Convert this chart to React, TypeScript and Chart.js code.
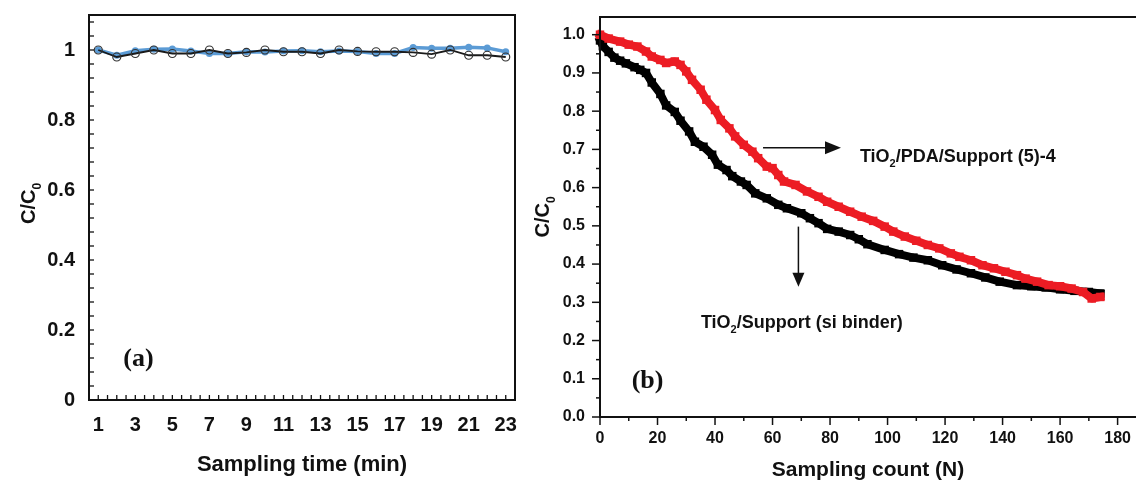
import React, { useEffect, useRef } from 'react';
import { Chart, registerables } from 'chart.js';

Chart.register(...registerables);

// ---------- Panel (a) data ----------
const samplingTime = [1, 2, 3, 4, 5, 6, 7, 8, 9, 10, 11, 12, 13, 14, 15, 16, 17, 18, 19, 20, 21, 22, 23];
const blueSeries = [1.0, 0.985, 0.998, 1.002, 1.003, 0.997, 0.99, 0.99, 0.995, 0.994, 0.997, 0.998, 0.995, 0.997, 0.996, 0.99, 0.99, 1.007, 1.005, 1.005, 1.008, 1.006, 0.995];
const blackSeries = [1.0, 0.98, 0.99, 1.0, 0.99, 0.99, 1.0, 0.99, 0.993, 1.0, 0.995, 0.995, 0.99, 1.0, 0.996, 0.995, 0.995, 0.993, 0.988, 1.0, 0.985, 0.985, 0.98];
const leftXTicks = [1, 3, 5, 7, 9, 11, 13, 15, 17, 19, 21, 23];
const leftYTicks = [0, 0.2, 0.4, 0.6, 0.8, 1];

// ---------- Panel (b) data ----------
const siBinderCount = [0, 1, 3, 5, 7, 9, 12, 14, 16, 18, 21, 23, 26, 28, 31, 33, 36, 39, 41, 44, 46, 49, 51, 54, 58, 62, 65, 70, 73, 76, 79, 83, 87, 90, 93, 99, 104, 109, 114, 119, 124, 129, 134, 139, 145, 150, 155, 160, 165, 170, 174];
const siBinderValues = [0.985, 0.97, 0.955, 0.94, 0.932, 0.925, 0.915, 0.908, 0.9, 0.875, 0.845, 0.815, 0.798, 0.775, 0.747, 0.72, 0.707, 0.686, 0.66, 0.646, 0.63, 0.616, 0.607, 0.585, 0.572, 0.555, 0.546, 0.533, 0.52, 0.507, 0.492, 0.485, 0.476, 0.465, 0.452, 0.437, 0.426, 0.417, 0.41, 0.397, 0.386, 0.376, 0.365, 0.354, 0.345, 0.342, 0.339, 0.334, 0.33, 0.327, 0.323];
const pdaCount = [0, 3, 7, 10, 13, 16, 18, 21, 23, 26, 28, 30, 32, 35, 37, 40, 42, 45, 47, 50, 53, 55, 58, 60, 62, 64, 68, 72, 76, 79, 83, 87, 91, 95, 99, 102, 106, 110, 114, 118, 122, 125, 129, 133, 137, 141, 145, 148, 152, 156, 160, 164, 168, 171, 174];
const pdaValues = [1.0, 0.99, 0.982, 0.974, 0.969, 0.956, 0.943, 0.934, 0.926, 0.93, 0.921, 0.904, 0.882, 0.856, 0.83, 0.803, 0.777, 0.755, 0.734, 0.712, 0.694, 0.677, 0.655, 0.651, 0.633, 0.616, 0.607, 0.59, 0.576, 0.563, 0.55, 0.537, 0.524, 0.513, 0.498, 0.485, 0.472, 0.461, 0.45, 0.441, 0.428, 0.419, 0.41, 0.397, 0.389, 0.38, 0.371, 0.362, 0.354, 0.345, 0.342, 0.336, 0.327, 0.31, 0.314];
const rightXTicks = [0, 20, 40, 60, 80, 100, 120, 140, 160, 180];
const rightYTicks = [0, 0.1, 0.2, 0.3, 0.4, 0.5, 0.6, 0.7, 0.8, 0.9, 1.0];

const SANS = '"Liberation Sans", Arial, sans-serif';
const SERIF = '"Liberation Serif", "Times New Roman", serif';

type Part = { t: string; sub?: boolean };

function drawRich(ctx: CanvasRenderingContext2D, parts: Part[], x: number, y: number, size: number, align: 'left' | 'center') {
  const widths = parts.map((p) => {
    ctx.font = `bold ${p.sub ? Math.round(size * 0.62) : size}px ${SANS}`;
    return ctx.measureText(p.t).width;
  });
  const total = widths.reduce((a, b) => a + b, 0);
  let cx = align === 'center' ? x - total / 2 : x;
  ctx.textAlign = 'left';
  ctx.textBaseline = 'alphabetic';
  parts.forEach((p, i) => {
    ctx.font = `bold ${p.sub ? Math.round(size * 0.62) : size}px ${SANS}`;
    ctx.fillText(p.t, cx, y + (p.sub ? size * 0.28 : 0));
    cx += widths[i];
  });
}

function line(ctx: CanvasRenderingContext2D, x1: number, y1: number, x2: number, y2: number) {
  ctx.beginPath();
  ctx.moveTo(x1, y1);
  ctx.lineTo(x2, y2);
  ctx.stroke();
}

const leftDecor = {
  id: 'leftDecor',
  afterDraw(chart: any) {
    const { ctx, chartArea: ca, scales } = chart;
    const x = scales.x;
    const y = scales.y;
    ctx.save();
    ctx.strokeStyle = '#111';
    ctx.lineWidth = 2;
    ctx.strokeRect(ca.left, ca.top, ca.right - ca.left, ca.bottom - ca.top);
    ctx.lineWidth = 1.3;
    for (let i = 2; i <= 46; i++) {
      const px = x.getPixelForValue(i / 2);
      line(ctx, px, ca.bottom, px, ca.bottom - 5);
    }
    for (let i = 1; i <= 27; i++) {
      const py = y.getPixelForValue(i * 0.04);
      line(ctx, ca.left, py, ca.left + 5, py);
    }
    ctx.fillStyle = '#111';
    ctx.save();
    ctx.translate(35, (ca.top + ca.bottom) / 2 - 4);
    ctx.rotate(-Math.PI / 2);
    drawRich(ctx, [{ t: 'C/C' }, { t: '0', sub: true }], 0, 0, 20, 'center');
    ctx.restore();
    ctx.font = `bold 26px ${SERIF}`;
    ctx.textAlign = 'left';
    ctx.textBaseline = 'middle';
    ctx.fillText('(a)', x.getPixelForValue(2.35), y.getPixelForValue(0.116));
    ctx.restore();
  },
};

const rightDecor = {
  id: 'rightDecor',
  afterDraw(chart: any) {
    const { ctx, chartArea: ca, scales } = chart;
    const x = scales.x;
    const y = scales.y;
    ctx.save();
    ctx.strokeStyle = '#111';
    ctx.fillStyle = '#111';
    ctx.lineWidth = 2;
    line(ctx, ca.left, ca.top, ca.right, ca.top);
    line(ctx, ca.left, ca.top - 1, ca.left, ca.bottom + 1);
    line(ctx, ca.left - 1, ca.bottom, ca.right, ca.bottom);
    ctx.lineWidth = 1.5;
    for (let i = 0; i <= 20; i++) {
      const py = y.getPixelForValue(i * 0.05);
      line(ctx, ca.left, py, ca.left - (i % 2 === 0 ? 8 : 4), py);
    }
    for (let i = 0; i <= 18; i++) {
      const px = x.getPixelForValue(i * 10);
      line(ctx, px, ca.bottom, px, ca.bottom + (i % 2 === 0 ? 8 : 4));
    }
    ctx.save();
    ctx.translate(ca.left - 51, (ca.top + ca.bottom) / 2);
    ctx.rotate(-Math.PI / 2);
    drawRich(ctx, [{ t: 'C/C' }, { t: '0', sub: true }], 0, 0, 20, 'center');
    ctx.restore();

    const a1y = y.getPixelForValue(0.704);
    const a1x0 = x.getPixelForValue(56.7);
    const a1x1 = x.getPixelForValue(83.8);
    ctx.lineWidth = 1.5;
    line(ctx, a1x0, a1y, a1x1 - 10, a1y);
    ctx.beginPath();
    ctx.moveTo(a1x1, a1y);
    ctx.lineTo(a1x1 - 16, a1y - 6.5);
    ctx.lineTo(a1x1 - 16, a1y + 6.5);
    ctx.closePath();
    ctx.fill();
    drawRich(ctx, [{ t: 'TiO' }, { t: '2', sub: true }, { t: '/PDA/Support (5)-4' }], x.getPixelForValue(90.4), y.getPixelForValue(0.685) + 6.5, 18, 'left');

    const a2x = x.getPixelForValue(69);
    const a2y0 = y.getPixelForValue(0.498);
    const a2y1 = y.getPixelForValue(0.341);
    line(ctx, a2x, a2y0, a2x, a2y1 - 8);
    ctx.beginPath();
    ctx.moveTo(a2x, a2y1);
    ctx.lineTo(a2x - 6, a2y1 - 14);
    ctx.lineTo(a2x + 6, a2y1 - 14);
    ctx.closePath();
    ctx.fill();
    drawRich(ctx, [{ t: 'TiO' }, { t: '2', sub: true }, { t: '/Support (si binder)' }], x.getPixelForValue(35.1), y.getPixelForValue(0.249) + 6.5, 18, 'left');

    ctx.font = `bold 26px ${SERIF}`;
    ctx.textAlign = 'left';
    ctx.textBaseline = 'middle';
    ctx.fillText('(b)', x.getPixelForValue(11), y.getPixelForValue(0.093));
    ctx.restore();
  },
};

function tickFont(size: number) {
  return { family: SANS, size, weight: 'bold' as const, lineHeight: 1 };
}

export default function App() {
  const leftRef = useRef<HTMLCanvasElement>(null);
  const rightRef = useRef<HTMLCanvasElement>(null);

  useEffect(() => {
    const left = new Chart(leftRef.current as HTMLCanvasElement, {
      type: 'line',
      data: {
        datasets: [
          {
            label: 'control',
            data: samplingTime.map((t, i) => ({ x: t, y: blackSeries[i] })),
            borderColor: '#1a1a1a',
            borderWidth: 1.8,
            pointStyle: 'circle',
            pointRadius: 4,
            pointBorderWidth: 1.2,
            pointBorderColor: '#333',
            pointBackgroundColor: 'rgba(0,0,0,0)',
            tension: 0,
            order: 1,
          },
          {
            label: 'blue',
            data: samplingTime.map((t, i) => ({ x: t, y: blueSeries[i] })),
            borderColor: '#5b9bd5',
            borderWidth: 3.5,
            pointRadius: 3.5,
            pointBorderWidth: 0,
            pointBackgroundColor: '#5b9bd5',
            tension: 0,
            order: 2,
          },
        ],
      },
      options: {
        responsive: false,
        animation: false,
        devicePixelRatio: 1,
        layout: { autoPadding: false, padding: { left: 0, top: 15, right: 5, bottom: 0 } },
        plugins: { legend: { display: false }, tooltip: { enabled: false } },
        scales: {
          x: {
            type: 'linear',
            min: 0.5,
            max: 23.5,
            afterBuildTicks: (s: any) => {
              s.ticks = leftXTicks.map((v) => ({ value: v }));
            },
            afterFit: (s: any) => {
              s.height = 81;
              s.paddingLeft = 0;
              s.paddingRight = 0;
            },
            grid: { display: false, drawTicks: false },
            border: { display: false },
            ticks: { font: tickFont(20), color: '#111', padding: 15, maxRotation: 0, autoSkip: false },
            title: {
              display: true,
              text: 'Sampling time (min)',
              color: '#111',
              font: { family: SANS, size: 22, weight: 'bold', lineHeight: 1 },
              padding: { top: 0, bottom: 5 },
            },
          },
          y: {
            type: 'linear',
            min: 0,
            max: 1.1,
            afterBuildTicks: (s: any) => {
              s.ticks = leftYTicks.map((v) => ({ value: v }));
            },
            afterFit: (s: any) => {
              s.width = 89;
              s.paddingTop = 0;
              s.paddingBottom = 0;
            },
            grid: { display: false, drawTicks: false },
            border: { display: false },
            ticks: { font: tickFont(20), color: '#111', padding: 14, callback: (v: any) => String(v) },
          },
        },
      },
      plugins: [leftDecor],
    } as any);

    const right = new Chart(rightRef.current as HTMLCanvasElement, {
      type: 'line',
      data: {
        datasets: [
          {
            label: 'TiO2/PDA/Support (5)-4',
            data: pdaCount.map((n, i) => ({ x: n, y: pdaValues[i] })),
            borderColor: '#ec1c24',
            backgroundColor: '#ec1c24',
            borderWidth: 8,
            borderJoinStyle: 'round',
            borderCapStyle: 'square',
            pointStyle: 'rect',
            pointRadius: 6,
            pointBorderWidth: 0,
            pointBackgroundColor: '#ec1c24',
            tension: 0,
            clip: false,
            order: 1,
          },
          {
            label: 'TiO2/Support (si binder)',
            data: siBinderCount.map((n, i) => ({ x: n, y: siBinderValues[i] })),
            borderColor: '#000',
            backgroundColor: '#000',
            borderWidth: 8,
            borderJoinStyle: 'round',
            borderCapStyle: 'square',
            pointStyle: 'rect',
            pointRadius: 6,
            pointBorderWidth: 0,
            pointBackgroundColor: '#000',
            tension: 0,
            clip: false,
            order: 2,
          },
        ],
      },
      options: {
        responsive: false,
        animation: false,
        devicePixelRatio: 1,
        layout: { autoPadding: false, padding: { left: 0, top: 17, right: 0, bottom: 0 } },
        plugins: { legend: { display: false }, tooltip: { enabled: false } },
        scales: {
          x: {
            type: 'linear',
            min: 0,
            max: 186.4,
            afterBuildTicks: (s: any) => {
              s.ticks = rightXTicks.map((v) => ({ value: v }));
            },
            afterFit: (s: any) => {
              s.height = 64;
              s.paddingLeft = 0;
              s.paddingRight = 0;
            },
            grid: { display: false, drawTicks: false },
            border: { display: false },
            ticks: { font: tickFont(16), color: '#111', padding: 14, maxRotation: 0, autoSkip: false },
            title: {
              display: true,
              text: 'Sampling count (N)',
              color: '#111',
              font: { family: SANS, size: 21, weight: 'bold', lineHeight: 1 },
              padding: { top: 0, bottom: 0 },
            },
          },
          y: {
            type: 'linear',
            min: 0,
            max: 1.0463,
            afterBuildTicks: (s: any) => {
              s.ticks = rightYTicks.map((v) => ({ value: v }));
            },
            afterFit: (s: any) => {
              s.width = 80;
              s.paddingTop = 0;
              s.paddingBottom = 0;
            },
            grid: { display: false, drawTicks: false },
            border: { display: false },
            ticks: {
              font: tickFont(16),
              color: '#111',
              padding: 15,
              callback: (v: any) => Number(v).toFixed(1),
            },
          },
        },
      },
      plugins: [rightDecor],
    } as any);

    return () => {
      left.destroy();
      right.destroy();
    };
  }, []);

  return (
    <div style={{ position: 'fixed', left: 0, top: 0, width: 1136, height: 481, background: '#fff', overflow: 'hidden' }}>
      <canvas ref={leftRef} width={520} height={481} style={{ position: 'absolute', left: 0, top: 0 }} />
      <canvas ref={rightRef} width={616} height={481} style={{ position: 'absolute', left: 520, top: 0 }} />
    </div>
  );
}
